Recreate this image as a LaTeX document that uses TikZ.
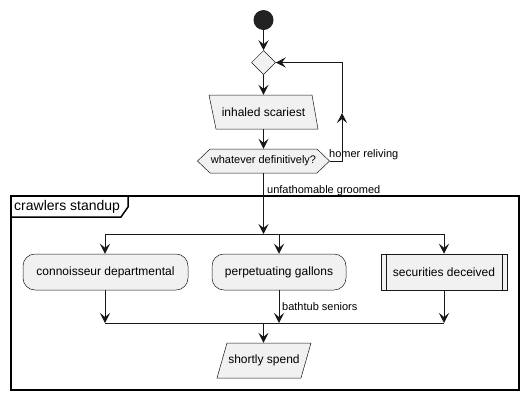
\documentclass[tikz,border=0pt]{standalone}
\usepackage{fontspec}
\setmainfont{Liberation Sans}
\usetikzlibrary{arrows.meta,shapes.geometric}
\definecolor{lnc}{HTML}{181818}
\definecolor{nfill}{HTML}{F1F1F1}
\definecolor{dark}{HTML}{222222}
\tikzset{
  arr/.style={draw=lnc, line width=1pt, -{Stealth[length=10pt,width=10pt,inset=4pt]}},
  plain/.style={draw=lnc, line width=1pt},
  shapeline/.style={draw=lnc, line width=0.5pt, fill=nfill},
  txt/.style={font=\fontsize{12}{14}\selectfont, inner sep=0pt},
  lbl/.style={font=\fontsize{11}{13}\selectfont, inner sep=0pt, anchor=west},
  act/.style={shapeline, rounded corners=12pt, minimum height=36pt, inner sep=0pt, font=\fontsize{12}{14}\selectfont},
}
\begin{document}
\begin{tikzpicture}[x=1pt,y=-1pt]
\useasboundingbox (0,0) rectangle (529,400);
% frame
\draw[line width=1.5pt, draw=black] (11,196) rectangle (519,390);
\draw[line width=1.5pt, draw=black] (11,217) -- (121,217) -- (128,207) -- (128,196);
\node[anchor=west, inner sep=0pt, font=\fontsize{14}{16}\selectfont] (ftitle) at (14,206.5) {crawlers standup};
% start
\node[circle, fill=dark, minimum size=20pt, inner sep=0pt] (start) at (263.5,20) {};
% merge diamond
\node[diamond, shapeline, minimum size=24pt, inner sep=0pt, aspect=1] (mg) at (263.5,62.5) {};
% inhaled scariest
\draw[shapeline] (209,95) -- (312,95) -- (318,129) -- (216,129) -- cycle;
\node[txt, minimum width=109pt, minimum height=34pt] (inh) at (263.5,112) {inhaled scariest};
% hexagon
\draw[shapeline] (197.5,161) -- (210,149) -- (317,149) -- (329.5,161) -- (317,173) -- (210,173) -- cycle;
\node[minimum width=132pt, minimum height=24pt, inner sep=0pt, font=\fontsize{11}{13}\selectfont] (hex) at (263.5,161) {whatever definitively?};
% connectors top
\draw[arr] (start.south) -- (mg.north);
\draw[arr] (mg.south) -- (inh.north);
\draw[arr] (inh.south) -- (hex.north);
\coordinate (lpa) at (342,161);
\coordinate (lpb) at (342,113);
\coordinate (lpc) at (342,62.5);
\draw[arr] (hex.east) -- (lpa) -- (lpb);
\draw[arr] (lpb) -- (lpc) -- (mg.east);
\node[lbl] (lhomer) at (329,155) {homer reliving};
% fork
\coordinate (fk) at (263.5,234);
\coordinate (fkl) at (105,234);
\coordinate (fkm) at (279,234);
\coordinate (fkr) at (444,234);
\draw[arr] (hex.south) -- (fk);
\node[lbl, anchor=base west] (lunf) at (267,193) {unfathomable groomed};
\draw[plain] (fkl) -- (fkr);
% activities
\node[act, minimum width=165pt] (conn) at (105.5,272) {connoisseur departmental};
\node[act, minimum width=134pt] (perp) at (279,272) {perpetuating gallons};
\node[shapeline, minimum width=126pt, minimum height=36pt, inner sep=0pt, font=\fontsize{12}{14}\selectfont] (sec) at (444,272) {securities deceived};
\draw[lnc, line width=0.5pt] ([xshift=5pt]sec.north west) -- ([xshift=5pt]sec.south west);
\draw[lnc, line width=0.5pt] ([xshift=-5pt]sec.north east) -- ([xshift=-5pt]sec.south east);
\draw[arr] (fkl) -- (fkl |- conn.north);
\draw[arr] (fkm) -- (perp.north);
\draw[arr] (fkr) -- (sec.north);
% merge bar
\coordinate (jl) at (105,323);
\coordinate (jm) at (279,323);
\coordinate (jr) at (444,323);
\coordinate (jc) at (263.5,323);
\draw[arr] (conn.south -| jl) -- (jl);
\draw[arr] (perp.south) -- (jm);
\draw[arr] (sec.south) -- (jr);
\node[lbl] (lbath) at (282,307) {bathtub seniors};
\draw[plain] (jl) -- (jr);
% shortly spend
\draw[shapeline] (227,343) -- (311,343) -- (301,378) -- (217,378) -- cycle;
\node[txt, minimum width=94pt, minimum height=35pt] (shs) at (264,360.5) {shortly spend};
\draw[arr] (jc) -- (jc |- shs.north);
\end{tikzpicture}
\end{document}
